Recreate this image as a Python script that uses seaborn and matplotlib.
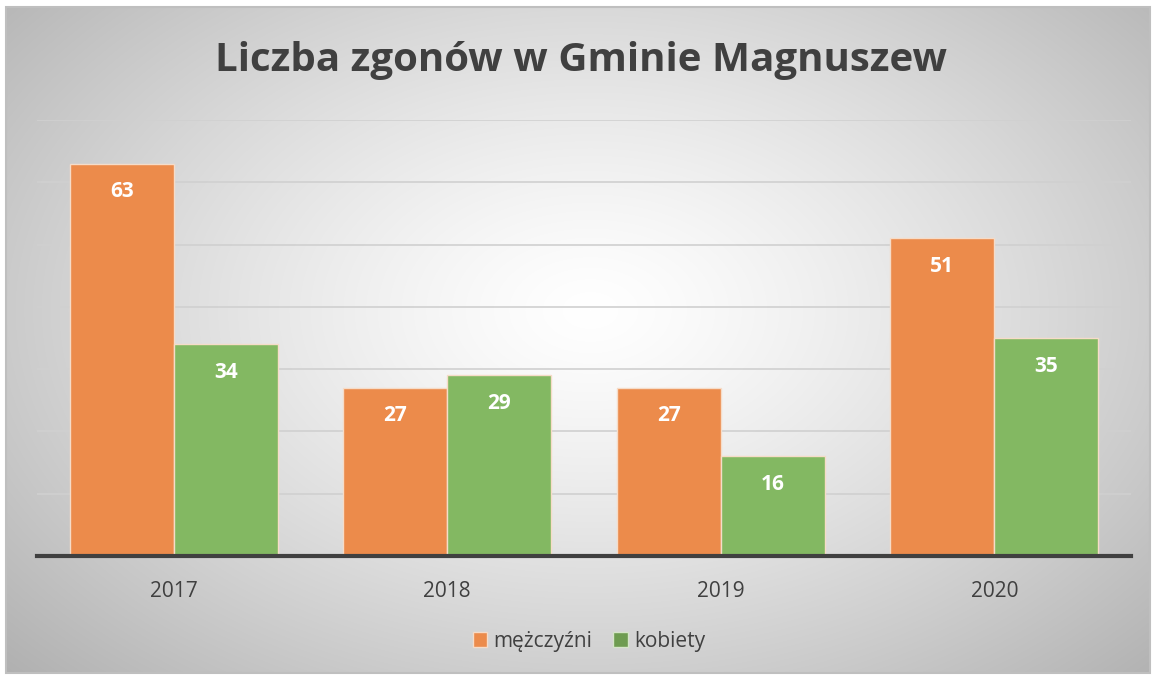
import numpy as np
import pandas as pd
import matplotlib
matplotlib.use("Agg")
import matplotlib.pyplot as plt
from matplotlib.patches import Patch, Rectangle
import seaborn as sns

# Data
years = ["2017", "2018", "2019", "2020"]
men = [63, 27, 27, 51]
women = [34, 29, 16, 35]
series_names = ["mężczyźni", "kobiety"]

df = pd.DataFrame({
    "rok": years * 2,
    "zgony": men + women,
    "plec": [series_names[0]] * len(years) + [series_names[1]] * len(years),
})

sns.set_theme(style="white")
plt.rcParams["font.family"] = ["Open Sans", "DejaVu Sans"]

orange = "#EC8B4B"
green = "#83B862"
text_col = "#404040"

fig = plt.figure(figsize=(11.52, 6.76), dpi=100)

# radial gradient background of the chart area
bg = fig.add_axes([0, 0, 1, 1], zorder=-10)
W, H = 1152, 676
xx, yy = np.meshgrid(np.arange(W), np.arange(H))
r = np.sqrt(((xx - 590) / 640.0) ** 2 + ((yy - 310) / 420.0) ** 2)
g = np.clip(1.0 - 0.23 * np.clip(r, 0, 1.25) ** 1.3, 0, 1)
img = np.dstack([g, g, g])
# white outer margin
img[:7, :] = 1
img[673:, :] = 1
img[:, :6] = 1
img[:, 1150:] = 1
bg.imshow(img, extent=[0, W, H, 0], aspect="auto", interpolation="bilinear")
bg.add_patch(Rectangle((6, 7), 1144, 666, fill=False, edgecolor="#bfbfbf", lw=1.5))
bg.set_xlim(0, W)
bg.set_ylim(H, 0)
bg.axis("off")

ax = fig.add_axes([37 / W, 1 - 556 / H, (1131 - 37) / W, (556 - 120) / H])
ax.patch.set_alpha(0)

sns.barplot(data=df, x="rok", y="zgony", hue="plec",
            palette=[orange, green], saturation=1, width=0.76, ax=ax,
            edgecolor="#f6dcc8", linewidth=1.0, legend=False)

for p in ax.patches:
    if p.get_height() <= 0:
        continue
    ax.annotate(f"{int(round(p.get_height()))}",
                (p.get_x() + p.get_width() / 2, p.get_height()),
                xytext=(0, -28), textcoords="offset pixels",
                ha="center", va="center", color="white",
                fontsize=15, fontweight="bold")

ax.set_ylim(0, 70)
ax.set_yticks(range(10, 80, 10))
ax.yaxis.grid(True, color="#d0d0d0", lw=1.2)
ax.set_axisbelow(True)
ax.tick_params(axis="y", left=False, labelleft=False)
ax.tick_params(axis="x", bottom=False, labelsize=15, labelcolor=text_col, pad=12)
ax.set_xlabel("")
ax.set_ylabel("")
for s in ["top", "left", "right"]:
    ax.spines[s].set_visible(False)
ax.spines["bottom"].set_color(text_col)
ax.spines["bottom"].set_linewidth(3)

fig.text(581 / W, 1 - 60 / H, "Liczba zgonów w Gminie Magnuszew",
         ha="center", va="center", fontsize=29, fontweight="bold", color=text_col)

handles = [Patch(facecolor=orange, edgecolor="#f6dcc8", label=series_names[0]),
           Patch(facecolor="#6E9C50", edgecolor="#d5e5c8", label=series_names[1])]
fig.legend(handles=handles, loc="center", bbox_to_anchor=(589 / W, 1 - 641 / H),
           ncol=2, frameon=False, fontsize=15, handlelength=0.7, handleheight=0.7,
           handletextpad=0.3, columnspacing=1.0, labelcolor=text_col)

fig.savefig("out.png", dpi=100)
